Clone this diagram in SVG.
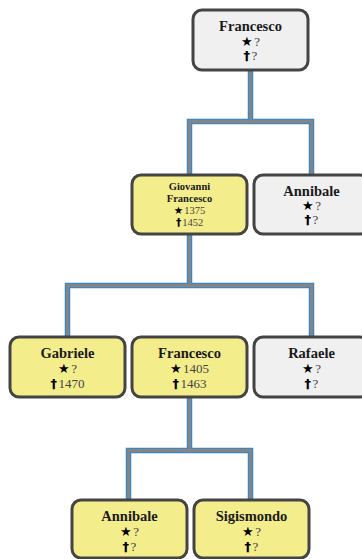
<svg xmlns="http://www.w3.org/2000/svg" width="362" height="559" viewBox="0 0 362 559">
<style>
.box{stroke:#444;stroke-width:3}
.y{fill:#f4ed8c}
.g{fill:#f0f0f0}
.nm{font-family:"Liberation Serif","DejaVu Serif",serif;font-weight:bold;font-size:14.5px;fill:#1a1a1a;text-anchor:middle}
.nms{font-family:"Liberation Serif","DejaVu Serif",serif;font-weight:bold;font-size:10.5px;fill:#1a1a1a;text-anchor:middle}
.ln{font-family:"Liberation Serif","DejaVu Serif",serif;font-size:13px;fill:#444;text-anchor:middle}
.lns{font-family:"Liberation Serif","DejaVu Serif",serif;font-size:10.5px;fill:#444;text-anchor:middle}
.sym{font-family:"DejaVu Sans",sans-serif;font-weight:bold;fill:#000}
.cb{fill:none;stroke:#3d86c4;stroke-width:5.5}
.cg{fill:none;stroke:#858585;stroke-width:2.8}
</style>
<defs>
<path id="c1" d="M250.5 70V121.5M189.5 175V121.5H311.5V175"/>
<path id="c2" d="M189.5 234V285.5M67.5 337V285.5H311.5V337"/>
<path id="c3" d="M189.5 398V450.5M128.5 500V450.5H250.5V500"/>
</defs>
<g id="connectors">
<use href="#c1" class="cb"/><use href="#c2" class="cb"/><use href="#c3" class="cb"/>
<use href="#c1" class="cg"/><use href="#c2" class="cg"/><use href="#c3" class="cg"/>
</g>
<g id="n-francesco-top">
<rect class="box g" x="193" y="10" width="115" height="60" rx="9"/>
<text class="nm" x="250.5" y="31">Francesco</text>
<text class="ln" x="250.5" y="46"><tspan class="sym">★</tspan><tspan dx="1.5">?</tspan></text>
<text class="ln" x="250.5" y="60"><tspan class="sym">†</tspan><tspan dx="1.5">?</tspan></text>
</g>
<g id="n-giovanni">
<rect class="box y" x="132" y="175" width="115" height="59" rx="9"/>
<text class="nms" x="189.5" y="190">Giovanni</text>
<text class="nms" x="189.5" y="201.5">Francesco</text>
<text class="lns" x="189.5" y="214"><tspan class="sym">★</tspan><tspan dx="1">1375</tspan></text>
<text class="lns" x="189.5" y="225.5"><tspan class="sym">†</tspan><tspan dx="1">1452</tspan></text>
</g>
<g id="n-annibale-2">
<rect class="box g" x="254" y="175" width="115" height="59" rx="9"/>
<text class="nm" x="311.5" y="195.5">Annibale</text>
<text class="ln" x="311.5" y="210"><tspan class="sym">★</tspan><tspan dx="1.5">?</tspan></text>
<text class="ln" x="311.5" y="224"><tspan class="sym">†</tspan><tspan dx="1.5">?</tspan></text>
</g>
<g id="n-gabriele">
<rect class="box y" x="10" y="337" width="115" height="60" rx="9"/>
<text class="nm" x="67.5" y="357.5">Gabriele</text>
<text class="ln" x="67.5" y="372.5"><tspan class="sym">★</tspan><tspan dx="1.5">?</tspan></text>
<text class="ln" x="67.5" y="387.5"><tspan class="sym">†</tspan><tspan dx="1.5">1470</tspan></text>
</g>
<g id="n-francesco-3">
<rect class="box y" x="132" y="337" width="115" height="60" rx="9"/>
<text class="nm" x="189.5" y="357.5">Francesco</text>
<text class="ln" x="189.5" y="372.5"><tspan class="sym">★</tspan><tspan dx="1.5">1405</tspan></text>
<text class="ln" x="189.5" y="387.5"><tspan class="sym">†</tspan><tspan dx="1.5">1463</tspan></text>
</g>
<g id="n-rafaele">
<rect class="box g" x="254" y="337" width="115" height="60" rx="9"/>
<text class="nm" x="311.5" y="357.5">Rafaele</text>
<text class="ln" x="311.5" y="372.5"><tspan class="sym">★</tspan><tspan dx="1.5">?</tspan></text>
<text class="ln" x="311.5" y="387.5"><tspan class="sym">†</tspan><tspan dx="1.5">?</tspan></text>
</g>
<g id="n-annibale-4">
<rect class="box y" x="72" y="500" width="115" height="58" rx="9"/>
<text class="nm" x="129.5" y="521">Annibale</text>
<text class="ln" x="129.5" y="536"><tspan class="sym">★</tspan><tspan dx="1.5">?</tspan></text>
<text class="ln" x="129.5" y="550.5"><tspan class="sym">†</tspan><tspan dx="1.5">?</tspan></text>
</g>
<g id="n-sigismondo">
<rect class="box y" x="194" y="500" width="115" height="58" rx="9"/>
<text class="nm" x="251.5" y="521">Sigismondo</text>
<text class="ln" x="251.5" y="536"><tspan class="sym">★</tspan><tspan dx="1.5">?</tspan></text>
<text class="ln" x="251.5" y="550.5"><tspan class="sym">†</tspan><tspan dx="1.5">?</tspan></text>
</g>
</svg>
